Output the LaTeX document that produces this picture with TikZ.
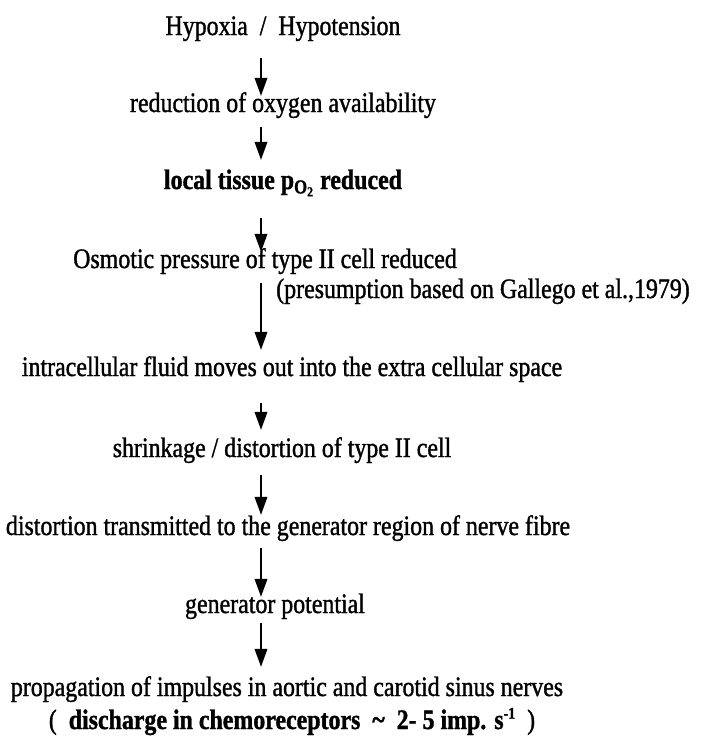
\documentclass[tikz,border=0pt]{standalone}
\usepackage{fontspec}
\setmainfont{Liberation Serif}[FakeStretch=0.85, FakeBold=1.2]
\usepackage{tikz}
\usetikzlibrary{arrows.meta}

\begin{document}
\begin{tikzpicture}[x=0.03cm, y=-0.03cm,
  every node/.style={font=\fontsize{24}{28}\selectfont, inner sep=0pt, anchor=base,
    text height=13.6pt, text depth=5.1pt},
  heavy/.style={font=\fontsize{24}{28}\selectfont\bfseries},
  flow/.style={-{Triangle[length=0.54cm, width=0.38cm]}, line width=1.3pt}]
\useasboundingbox (0,0) rectangle (705,742);
\coordinate (ax) at (261,0);
\node (hyp) at (283,35) {Hypoxia~~/~~Hypotension};
\node (red) at (283,112) {reduction of oxygen availability};
\node[heavy] (tis) at (283,189) {local tissue p\textsubscript{O\textsubscript{2}} reduced};
\node (osm) at (265,268) {Osmotic pressure of type II cell reduced};
\node (pre) at (483,298) {(presumption based on Gallego et al.,1979)};
\node (flu) at (292,376) {intracellular fluid moves out into the extra cellular space};
\node (shr) at (282,457) {shrinkage / distortion of type II cell};
\node (dis) at (288,535) {distortion transmitted to the generator region of nerve fibre};
\node (gen) at (275,613) {generator potential};
\node (pro) at (287,696) {propagation of impulses in aortic and carotid sinus nerves};
\node (chm) at (292,729) {(~~\textbf{discharge in chemoreceptors~~\textasciitilde~~2- 5 imp. s\raisebox{0.8ex}{\fontsize{14}{14}\selectfont -1}}~~)};
% chain of arrows
\draw[flow] (hyp.south -| ax) ++(0,17) -- (red.north -| ax);
\draw[flow, shorten >=0.39cm] (red.south -| ax) ++(0,9) -- (tis.north -| ax);
\draw[flow] (tis.south -| ax) ++(0,23) -- (osm.north -| ax);
\draw[flow, shorten >=0.3cm] (osm.south -| ax) ++(0,9) -- (flu.north -| ax);
\draw[flow, shorten >=0.33cm] (flu.south -| ax) ++(0,21) -- (shr.north -| ax);
\draw[flow, shorten >=0.12cm] (shr.south -| ax) ++(0,12) -- (dis.north -| ax);
\draw[flow] (dis.south -| ax) ++(0,7) -- (gen.north -| ax);
\draw[flow, shorten >=0.39cm] (gen.south -| ax) ++(0,4) -- (pro.north -| ax);
\end{tikzpicture}
\end{document}
